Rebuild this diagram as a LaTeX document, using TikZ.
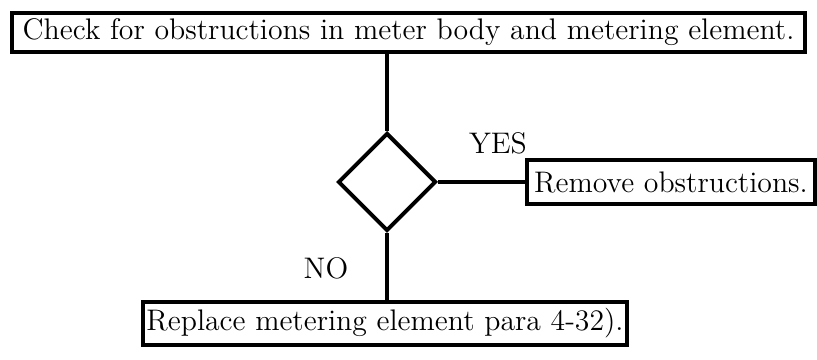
\documentclass[tikz,border=0pt]{standalone}
\usetikzlibrary{shapes.geometric}
\tikzset{
	stepbox/.style={draw,line width=1.7pt,inner sep=0pt,font=\fontsize{12.7}{15}\selectfont},
	choice/.style={draw,diamond,line width=1.7pt,minimum width=1.47cm,minimum height=1.47cm,inner sep=0pt},
	link/.style={line width=1.7pt}
}
\begin{document}
\begin{tikzpicture}[x=0.015cm,y=-0.015cm]
	\useasboundingbox (0,0) rectangle (817,360);
	\node[stepbox,minimum width=11.9cm,minimum height=0.59cm] (check) at (408.5,32.5) {Check for obstructions in meter body and metering element.};
	\node[choice] (q) at (387,182) {};
	\node[stepbox,minimum width=4.32cm,minimum height=0.66cm] (remove) at (671,182) {Remove obstructions.};
	\node[stepbox,minimum width=7.26cm,minimum height=0.65cm] (replace) at (385,323.5) {Replace metering element para 4-32).};
	\draw[link] (q.north) -- (q.north |- check.south);
	\draw[link] (q.east) -- (remove.west);
	\draw[link] (q.south) -- (q.south |- replace.north);
	\node[font=\fontsize{12.7}{15}\selectfont] (yes) at (498,143) {YES};
	\node[font=\fontsize{12.7}{15}\selectfont] (no) at (326,268) {NO};
\end{tikzpicture}
\end{document}
